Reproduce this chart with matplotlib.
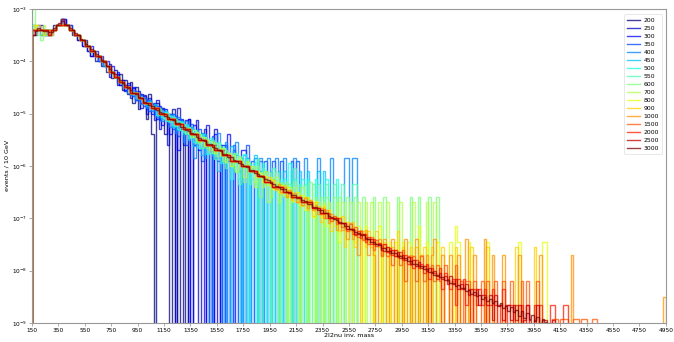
import matplotlib
matplotlib.use("Agg")
import matplotlib.pyplot as plt
import numpy as np

# bin contents as log10(events / 10 GeV), 20 GeV bins from 150
# N marks an empty bin
N = None

s200 = [-3.4, -3.5, -3.4, -3.5, -3.4, -3.5, -3.4, -3.4, -3.3, -3.3,
        -3.3, -3.2, -3.3, -3.3, -3.4, -3.5, -3.5, -3.6, -3.6, -3.7,
        -3.6, -3.8, -3.9, -3.8, -4.0, -3.9, -4.1, -4.0,
        -4.20, -4.06, -4.32, -4.17, -4.45, -4.25, -4.55, -4.36, -4.62, -4.40,
        -4.80, -4.50, -4.92, -4.62, -4.70, -5.10, -4.62, -5.40, N, -4.80,
        -5.10, -4.92, -5.40, -5.10, N, -4.92, N, -5.10, N, -5.40,
        N, -5.10, -5.40]
s250 = [-3.4, -3.4, -3.4, -3.3, -3.4, -3.4, -3.5, -3.4, -3.4, -3.3,
        -3.3, -3.2, -3.2, -3.3, -3.4, -3.4, -3.5, -3.6, -3.6, -3.6,
        -3.7, -3.7, -3.9, -3.8, -3.9, -4.0, -4.0, -4.1, -4.1, -4.3,
        -4.2, -4.3,
        -4.25, -4.45, -4.35, -4.56, -4.42, -4.70, -4.52, -4.75,
        -4.56, -4.90, -4.65, -5.00, -4.70, -4.82, -5.12, -4.75, -5.30, -4.90,
        -5.00, -5.60, -5.00, -5.12, N, -4.90, -5.30, -5.60, -5.12, N,
        -5.30, -5.60, -5.12, N, -5.60, -5.30, N, -5.60, N, -5.30,
        N, -5.60, -5.60]
s300 = [-3.5, -3.4, -3.3, -3.4, -3.5, -3.4, -3.4, -3.5, -3.4, -3.3,
        -3.3, -3.3, -3.2, -3.3, -3.3, -3.4, -3.5, -3.5, -3.6, -3.7,
        -3.7, -3.8, -3.7, -3.9, -3.8, -4.0, -3.9, -4.1, -4.0, -4.2,
        -4.1, -4.3, -4.2,
        -4.45, -4.36, -4.55, -4.45, -4.62, -4.50, -4.75,
        -4.62, -4.80, -4.66, -4.92, -4.75, -5.00, -4.80, -5.10, -4.85, -5.22,
        -4.92, -5.00, -5.40, -5.00, -5.10, -5.70, -5.10, -5.22, -5.40, -5.10,
        N, -5.22, -5.40, -5.70, -5.40, N, -5.22, -5.70, N, -5.40,
        -5.70, N, -5.70, N, -5.40, N, -5.70, N, N, -5.70,
        -5.70]
s350 = [-3.4, -3.4, -3.4, -3.4, -3.4, -3.5, -3.4, -3.4, -3.4, -3.3,
        -3.3, -3.2, -3.3, -3.3, -3.3, -3.4, -3.5, -3.5, -3.6, -3.6,
        -3.7, -3.7, -3.8, -3.8, -3.9, -3.9, -4.0, -4.0, -4.1, -4.2,
        -4.2, -4.3, -4.4, -4.4, -4.4, -4.5, -4.5, -4.6,
        -4.67, -4.56, -4.75, -4.65, -4.86, -4.72, -4.95, -4.79, -5.00, -4.86,
        -5.12, -4.90, -5.05, -5.20, -5.00, -5.30, -5.05, -5.42, -5.12, -5.20,
        -5.60, -5.30, -5.20, -5.60, -5.42, -5.30, -5.90, -5.42, -5.60, N,
        -5.42, -5.60, -5.90, -5.60, N, -5.60, -5.90, N, -5.60, -5.90,
        N, -5.90, N, -5.60, N, -5.90, N, N, -5.90, N,
        -5.90, N, N, -5.90, N, N, -5.90, N, N, N,
        -5.90, N, -5.90]
s400 = [-3.3, -3.4, -3.4, -3.4, -3.4, -3.4, -3.5, -3.4, -3.4, -3.3,
        -3.3, -3.2, -3.3, -3.3, -3.4, -3.4, -3.5, -3.5, -3.6, -3.6,
        -3.7, -3.7, -3.8, -3.8, -3.9, -4.0, -4.0, -4.0, -4.1, -4.2,
        -4.2, -4.3, -4.3, -4.4, -4.5, -4.5, -4.6,
        -4.65, -4.55, -4.74, -4.62, -4.81, -4.70, -4.90, -4.74, -4.95, -4.81,
        -5.07, -4.90, -5.15, -4.95, -5.00, -5.25, -5.00, -5.37, -5.07, -5.25,
        -5.55, -5.15, -5.37, -5.25, -5.85, -5.37, -5.55, -5.37, -5.85, -5.55,
        N, -5.55, -5.85, -5.37, -5.85, N, -5.55, -5.85, N, -5.85,
        -5.55, N, -5.85, N, -5.85, N, N, -5.85, N, -5.85,
        N, N, -5.85, N, N, -5.85, N, N, -5.85, N,
        N, N, -5.85, N, N, N, -5.85, N, N, N,
        N, -5.85, N, N, N, N, -5.85, N, N, N,
        N, -5.85, -5.85, N, -5.85, -5.85]
s450 = [-3.3, -3.4, -3.4, -3.4, -3.4, -3.4, -3.4, -3.4, -3.4, -3.3,
        -3.3, -3.3, -3.3, -3.3, -3.4, -3.4, -3.5, -3.5, -3.6, -3.6,
        -3.7, -3.7, -3.8, -3.8, -3.9, -3.9, -4.0, -4.1, -4.1, -4.2,
        -4.2, -4.3, -4.3, -4.4, -4.4, -4.5, -4.5, -4.6, -4.6, -4.7,
        -4.7, -4.7, -4.8,
        -4.85, -4.76, -4.92, -4.82, -5.02, -4.90, -5.10, -4.95, -5.15, -5.02,
        -5.25, -5.10, -5.32, -5.15, -5.40, -5.20, -5.50, -5.25, -5.62, -5.32,
        -5.40, -5.80, -5.40, -5.62, -5.50, -5.80, -5.62, -6.10, -5.62, -5.80,
        -5.80, N, -5.62, -6.10, -5.80, -6.10, N, -5.80, -6.10, N,
        -6.10, -5.80, N, -6.10, N, -6.10, N, -6.10, N, N,
        -6.10, N, -6.10, N, N, -6.10, N, N, -6.10, N,
        N, -6.10, N, N, N, -6.10, N, -6.10]
s500 = [-3.3, -3.4, -3.4, -3.4, -3.5, -3.4, -3.4, -3.4, -3.4, -3.3,
        -3.3, -3.3, -3.3, -3.3, -3.4, -3.4, -3.5, -3.5, -3.6, -3.6,
        -3.7, -3.7, -3.8, -3.8, -3.9, -3.9, -4.0, -4.0, -4.1, -4.2,
        -4.2, -4.3, -4.3, -4.4, -4.4, -4.5, -4.5, -4.6, -4.6, -4.6,
        -4.7, -4.7, -4.8, -4.8, -4.8, -4.9, -4.9,
        -5.02, -4.91, -5.07, -4.97, -5.14, -5.05, -5.21, -5.10, -5.30, -5.17,
        -5.35, -5.21, -5.47, -5.30, -5.55, -5.35, -5.65, -5.40, -5.47, -5.77,
        -5.47, -5.65, -5.77, -5.55, -5.95, -5.65, -5.95, -5.77, -6.25, -5.77,
        -5.95, -6.25, -5.95, -5.77, N, -5.95, -6.25, -5.95, N, -6.25,
        -5.95, -6.25, N, -6.25, -6.25, N, -6.25, N, -6.25, N,
        -5.95, N, -6.25, N, N, -6.25, N, -6.25, N, N,
        -6.25, N, N, N, -6.25, N, N, N, -6.25]
s550 = [-3.3, -3.4, -3.4, -3.5, -3.4, -3.5, -3.4, -3.4, -3.4, -3.3,
        -3.3, -3.3, -3.3, -3.3, -3.4, -3.4, -3.5, -3.5, -3.6, -3.6,
        -3.7, -3.7, -3.8, -3.8, -3.9, -3.9, -4.0, -4.0, -4.1, -4.2,
        -4.2, -4.3, -4.3, -4.4, -4.4, -4.5, -4.5, -4.6, -4.6, -4.6,
        -4.7, -4.7, -4.8, -4.8, -4.8, -4.9, -4.9, -4.9, -5.0, -5.0,
        -5.10, -4.99, -5.17, -5.07, -5.24, -5.15, -5.31, -5.20, -5.40, -5.27,
        -5.45, -5.31, -5.57, -5.40, -5.65, -5.45, -5.50, -5.75, -5.50, -5.87,
        -5.57, -5.75, -5.65, -6.05, -5.75, -5.87, -6.05, -5.75, -6.35, -5.87,
        -6.05, -5.87, -6.35, -6.05, -6.35, -5.87, N, -6.05, -6.35, -6.35,
        N, -6.05, -6.35, N, -6.35, -6.35, N, -6.35, N, -6.05,
        N, -6.35, N, -6.35, N, N, -6.35, N, -6.35, N,
        N, -6.35, N, N, -6.35, N, N, -6.35, N, N,
        N, -6.35, -6.35]
s600 = [-2.9, -3.4, -3.5, -3.6, -3.4, -3.5, -3.4, -3.4, -3.4, -3.3,
        -3.3, -3.3, -3.3, -3.3, -3.4, -3.4, -3.5, -3.5, -3.6, -3.6,
        -3.7, -3.7, -3.8, -3.8, -3.9, -3.9, -4.0, -4.0, -4.1, -4.2,
        -4.2, -4.3, -4.3, -4.4, -4.4, -4.5, -4.5, -4.6, -4.6, -4.6,
        -4.7, -4.7, -4.8, -4.8, -4.8, -4.9, -4.9, -4.9, -5.0, -5.0,
        -5.0, -5.1, -5.1, -5.1, -5.2, -5.2, -5.2, -5.3,
        -5.37, -5.26, -5.45, -5.32, -5.52, -5.40, -5.60, -5.45, -5.65, -5.52,
        -5.75, -5.56, -5.82, -5.65, -5.90, -5.70, -5.75, -6.00, -5.75, -6.12,
        -5.82, -5.90, -6.30, -5.90, -6.12, -6.00, -6.30, -6.00, -6.60, -6.12,
        -6.30, -6.12, -6.60, -6.30, -6.12, N, -6.30, -6.60, -6.30, N,
        -6.60, -6.30, -6.60, N, -6.60, -6.60, N, -6.30, N, -6.60,
        N, -6.60, N, -6.60, N, N, -6.60, N, -6.60, N,
        N, -6.60, N, N, -6.60, N, N, -6.60, N, N,
        N, -6.60, N, N, N, -6.60, N, N, N, N,
        -6.60, N, N, N, N, -6.60, N, N, -6.60, N,
        N, N, -6.60, N, N, -6.60]
s700 = [-3.3, -3.3, -3.4, -3.4, -3.3, -3.4, -3.5, -3.4, -3.4, -3.3,
        -3.3, -3.3, -3.3, -3.3, -3.4, -3.4, -3.5, -3.5, -3.6, -3.6,
        -3.7, -3.7, -3.8, -3.8, -3.9, -3.9, -4.0, -4.0, -4.1, -4.2,
        -4.2, -4.3, -4.3, -4.4, -4.4, -4.5, -4.5, -4.6, -4.6, -4.6,
        -4.7, -4.7, -4.8, -4.8, -4.8, -4.9, -4.9, -4.9, -5.0, -5.0,
        -5.0, -5.1, -5.1, -5.1, -5.2, -5.2, -5.2, -5.3, -5.3, -5.3,
        -5.4, -5.45, -5.36, -5.55, -5.45, -5.62, -5.50, -5.70, -5.55, -5.75,
        -5.62, -5.80, -5.66, -5.92, -5.75, -6.00, -5.80, -6.10, -5.85, -5.92,
        -6.22, -5.92, -6.10, -6.00, -6.40, -6.10, -6.22, -6.40, -6.10, -6.70,
        -6.22, -6.40, -6.22, -6.70, -6.40, -6.40, N, -6.40, -6.70, -6.40,
        -6.70, N, -6.40, -6.70, N, -6.70, -6.70, N, -6.70, N,
        -6.70, N, -6.70, N, N, -6.70, N, -6.70, N, N,
        -6.70, N, N, -6.70, N, N, -6.70, N, -6.70, N,
        N, -6.70, N, N, -6.70, N, N, N, N, -6.70,
        N, N, N, N, -6.70, N, N, N, N, -6.70,
        N, N, -6.70]
s800 = [-3.4, -3.3, -3.4, -3.4, -3.4, -3.4, -3.4, -3.5, -3.4, -3.3,
        -3.3, -3.3, -3.3, -3.3, -3.4, -3.4, -3.5, -3.5, -3.6, -3.6,
        -3.7, -3.7, -3.8, -3.8, -3.9, -3.9, -4.0, -4.0, -4.1, -4.2,
        -4.2, -4.3, -4.3, -4.4, -4.4, -4.5, -4.5, -4.6, -4.6, -4.6,
        -4.7, -4.7, -4.8, -4.8, -4.8, -4.9, -4.9, -4.9, -5.0, -5.0,
        -5.0, -5.1, -5.1, -5.1, -5.2, -5.2, -5.2, -5.3, -5.3, -5.3,
        -5.4, -5.4, -5.4, -5.5, -5.5, -5.5, -5.6, -5.6, -5.6, -5.7,
        -5.7, -5.7, -5.8, -5.8, -5.8, -5.9, -5.9, -5.9, -5.9, -6.0,
        -6.0, -6.0, -6.1, -6.1, -6.1, -6.22, -6.13, -6.30, -6.20, -6.37,
        -6.25, -6.45, -6.30, -6.50, -6.37, -6.55, -6.41, -6.60, -6.50, -6.67,
        -6.50, -6.75, -6.55, -6.85, -6.60, -6.75, -6.97, -6.67, -6.85, -6.97,
        -6.75, -7.15, -6.85, -6.97, -7.15, -6.97, -7.45, -6.97, -7.15, -7.15,
        N, -7.15, -7.45, -7.15, -7.45, N, -7.15, -7.45, -7.45, N,
        -7.45, -7.15, N, -7.45, N, -7.45, N, -7.45, N, N,
        -7.45, N, -7.45, N, N, N, -7.15, N, N, -7.45,
        N, N, N, -7.45, N, N, N, N, -7.45, N,
        -7.15, -7.45, N, N, N, -7.45, N, N, N, N,
        N, N, -7.45, N, N, N, N, N, N, N,
        N, N, N, N, -7.45, N, N, N, N, N,
        N, N, N, -7.45, -7.45]
s900 = [-3.4, -3.3, -3.3, -3.4, -3.5, -3.4, -3.4, -3.4, -3.4, -3.3,
        -3.3, -3.3, -3.3, -3.3, -3.4, -3.4, -3.5, -3.5, -3.6, -3.6,
        -3.7, -3.7, -3.8, -3.8, -3.9, -3.9, -4.0, -4.0, -4.1, -4.2,
        -4.2, -4.3, -4.3, -4.4, -4.4, -4.5, -4.5, -4.6, -4.6, -4.6,
        -4.7, -4.7, -4.8, -4.8, -4.8, -4.9, -4.9, -4.9, -5.0, -5.0,
        -5.0, -5.1, -5.1, -5.1, -5.2, -5.2, -5.2, -5.3, -5.3, -5.3,
        -5.4, -5.4, -5.4, -5.5, -5.5, -5.5, -5.6, -5.6, -5.6, -5.7,
        -5.7, -5.7, -5.8, -5.8, -5.8, -5.9, -5.9, -5.9, -5.9, -6.0,
        -6.0, -6.0, -6.1, -6.1, -6.1, -6.2, -6.2, -6.2, -6.30, -6.21,
        -6.37, -6.27, -6.47, -6.35, -6.51, -6.37, -6.60, -6.47, -6.65, -6.51,
        -6.70, -6.55, -6.77, -6.60, -6.85, -6.65, -6.95, -6.70, -6.77, -7.07,
        -6.77, -6.95, -6.85, -7.25, -6.95, -7.07, -7.25, -6.95, -7.55, -7.07,
        -7.25, -7.07, -7.55, -7.25, N, -7.25, -7.55, -7.25, -7.55, N,
        -7.25, -7.55, N, -7.55, -7.55, N, -7.55, N, -7.25, N,
        -7.55, N, N, -7.55, N, -7.55, N, N, -7.55, N,
        N, -7.55, N, N, N, -7.55, N, N, N, N,
        -7.55, N, N, N, N, N, -7.55, N, N, N,
        N, N, -7.55, N, N, N, N, N, N, N,
        N, N, N, -7.55, N, N, N, N, N, N,
        -7.55]
s1000 = [-3.4, -3.4, -3.4, -3.4, -3.4, -3.4, -3.5, -3.4, -3.4, -3.3,
         -3.3, -3.3, -3.3, -3.3, -3.4, -3.4, -3.5, -3.5, -3.6, -3.6,
         -3.7, -3.7, -3.8, -3.8, -3.9, -3.9, -4.0, -4.0, -4.1, -4.2,
         -4.2, -4.3, -4.3, -4.4, -4.4, -4.5, -4.5, -4.6, -4.6, -4.6,
         -4.7, -4.7, -4.8, -4.8, -4.8, -4.9, -4.9, -4.9, -5.0, -5.0,
         -5.0, -5.1, -5.1, -5.1, -5.2, -5.2, -5.2, -5.3, -5.3, -5.3,
         -5.4, -5.4, -5.4, -5.5, -5.5, -5.5, -5.6, -5.6, -5.6, -5.7,
         -5.7, -5.7, -5.8, -5.8, -5.8, -5.9, -5.9, -5.9, -5.9, -6.0,
         -6.0, -6.0, -6.1, -6.1, -6.1, -6.2, -6.2, -6.2, -6.3, -6.3,
         -6.3, -6.4, -6.45, -6.34, -6.50, -6.40, -6.59, -6.47, -6.62, -6.52,
         -6.70, -6.59, -6.75, -6.62, -6.80, -6.66, -6.85, -6.75, -6.92, -6.80,
         -7.00, -6.85, -7.10, -6.92, -7.00, -7.22, -7.00, -7.22, -7.10, -7.40,
         -7.10, -7.40, -7.22, -7.70, -7.22, -7.40, -7.22, -7.70, -7.40, -7.70,
         N, -7.40, -7.70, -7.40, N, -7.70, -7.40, N, -7.70, -7.70,
         N, -7.40, N, -7.70, N, -7.40, N, -7.70, N, -7.70,
         N, -7.70, -7.40, N, N, -7.70, N, N, -7.70, N,
         N, -7.70, N, N, -7.40, N, N, -7.70, N, N,
         N, -7.40, N, N, -7.70, N, N, N, -7.70, N,
         N, N, N, N, -7.70, N, N, N, N, N,
         N, N, -7.70, N, N, N, N, N, N, N,
         N, N, N, N, -7.70, N, N, N, N, N,
         N, N, N, N, N, N, N, N, N, N,
         N, N, N, N, N, N, N, N, N, N,
         N, N, N, N, N, N, N, N, N, -8.5]
s1500 = [-3.4, -3.4, -3.4, -3.4, -3.4, -3.4, -3.4, -3.4, -3.4, -3.3,
         -3.3, -3.3, -3.3, -3.3, -3.4, -3.4, -3.5, -3.5, -3.6, -3.6,
         -3.7, -3.7, -3.8, -3.8, -3.9, -3.9, -4.0, -4.0, -4.1, -4.2,
         -4.2, -4.3, -4.3, -4.4, -4.4, -4.5, -4.5, -4.6, -4.6, -4.6,
         -4.7, -4.7, -4.8, -4.8, -4.8, -4.9, -4.9, -4.9, -5.0, -5.0,
         -5.0, -5.1, -5.1, -5.1, -5.2, -5.2, -5.2, -5.3, -5.3, -5.3,
         -5.4, -5.4, -5.4, -5.5, -5.5, -5.5, -5.6, -5.6, -5.6, -5.7,
         -5.7, -5.7, -5.8, -5.8, -5.8, -5.9, -5.9, -5.9, -5.9, -6.0,
         -6.0, -6.0, -6.1, -6.1, -6.1, -6.2, -6.2, -6.2, -6.3, -6.3,
         -6.3, -6.4, -6.4, -6.4, -6.4, -6.5, -6.5, -6.5, -6.6, -6.6,
         -6.6, -6.6, -6.7, -6.7, -6.7, -6.7, -6.8, -6.8, -6.8, -6.92,
         -6.82, -7.00, -6.90, -7.05, -6.95, -7.12, -7.00, -7.16, -7.09, -7.25,
         -7.12, -7.30, -7.16, -7.35, -7.25, -7.42, -7.30, -7.50, -7.35, -7.60,
         -7.42, -7.50, -7.72, -7.50, -7.72, -7.60, -7.90, -7.60, -7.72, -7.90,
         -7.60, -8.20, -7.72, -7.90, -7.72, -8.20, -7.90, -7.72, -8.20, -7.90,
         N, -7.90, -8.20, -7.90, -8.20, N, -7.90, -8.20, N, -8.20,
         -7.90, N, -8.20, N, -8.20, -8.20, N, -8.20, N, N,
         -8.20, N, -8.20, N, N, -8.20, N, N, -8.20, N,
         N, -8.20, N, N, N, -8.20, N, -8.20, N, N,
         N, -8.20, N, N, N, N, N, -8.92, -8.92, N,
         -8.92, -8.92, -8.92, N, N, -8.92, -8.92, N, -8.92, -8.92,
         N, N, -8.92, -8.92]
s2000 = [-3.5, -3.4, -3.4, -3.4, -3.4, -3.4, -3.5, -3.4, -3.4, -3.3,
         -3.3, -3.3, -3.3, -3.3, -3.4, -3.4, -3.5, -3.5, -3.6, -3.6,
         -3.7, -3.7, -3.8, -3.8, -3.9, -3.9, -4.0, -4.0, -4.1, -4.2,
         -4.2, -4.3, -4.3, -4.4, -4.4, -4.5, -4.5, -4.6, -4.6, -4.6,
         -4.7, -4.7, -4.8, -4.8, -4.8, -4.9, -4.9, -4.9, -5.0, -5.0,
         -5.0, -5.1, -5.1, -5.1, -5.2, -5.2, -5.2, -5.3, -5.3, -5.3,
         -5.4, -5.4, -5.4, -5.5, -5.5, -5.5, -5.6, -5.6, -5.6, -5.7,
         -5.7, -5.7, -5.8, -5.8, -5.8, -5.9, -5.9, -5.9, -5.9, -6.0,
         -6.0, -6.0, -6.1, -6.1, -6.1, -6.2, -6.2, -6.2, -6.3, -6.3,
         -6.3, -6.4, -6.4, -6.4, -6.4, -6.5, -6.5, -6.5, -6.6, -6.6,
         -6.6, -6.6, -6.7, -6.7, -6.7, -6.7, -6.8, -6.8, -6.8, -6.9,
         -6.9, -6.9, -7.0, -7.0, -7.0, -7.0, -7.1, -7.1, -7.1, -7.2,
         -7.2, -7.2, -7.33, -7.24, -7.37, -7.31, -7.45, -7.35, -7.50, -7.40,
         -7.54, -7.47, -7.61, -7.50, -7.65, -7.57, -7.70, -7.61, -7.75, -7.65,
         -7.80, -7.70, -7.87, -7.75, -7.95, -7.80, -7.95, -7.87, -8.05, -7.87,
         -8.17, -7.95, -8.05, -8.17, -7.95, -8.35, -8.05, -8.17, -8.35, -8.17,
         -8.65, -8.17, -8.35, -8.17, -8.65, -8.35, N, -8.35, -8.65, -8.35,
         -8.65, -8.35, N, -8.65, -8.35, -8.65, N, -8.65, -8.35, N,
         -8.65, -8.65, N, -8.65, N, -8.65, N, -8.65, N, N,
         -8.65, N, -8.65, N, N, N, -8.65, -8.65, N, N,
         N, -8.65, -8.65]
s2500 = [-3.4, -3.4, -3.4, -3.4, -3.4, -3.4, -3.5, -3.4, -3.4, -3.3,
         -3.3, -3.2, -3.3, -3.3, -3.4, -3.4, -3.5, -3.5, -3.6, -3.6,
         -3.7, -3.7, -3.8, -3.8, -3.9, -3.9, -4.0, -4.0, -4.1, -4.1,
         -4.2, -4.3, -4.3, -4.4, -4.4, -4.5, -4.5, -4.6, -4.6, -4.6,
         -4.7, -4.7, -4.8, -4.8, -4.8, -4.9, -4.9, -4.9, -5.0, -5.0,
         -5.0, -5.1, -5.1, -5.1, -5.2, -5.2, -5.2, -5.3, -5.3, -5.3,
         -5.4, -5.4, -5.4, -5.5, -5.5, -5.5, -5.6, -5.6, -5.6, -5.7,
         -5.7, -5.7, -5.8, -5.8, -5.8, -5.9, -5.9, -5.9, -5.9, -6.0,
         -6.0, -6.0, -6.1, -6.1, -6.1, -6.2, -6.2, -6.2, -6.3, -6.3,
         -6.3, -6.4, -6.4, -6.4, -6.4, -6.5, -6.5, -6.5, -6.6, -6.6,
         -6.6, -6.6, -6.7, -6.7, -6.7, -6.7, -6.8, -6.8, -6.8, -6.9,
         -6.9, -6.9, -7.0, -7.0, -7.0, -7.0, -7.1, -7.1, -7.1, -7.2,
         -7.2, -7.2, -7.3, -7.3, -7.3, -7.3, -7.4, -7.4, -7.4, -7.5,
         -7.5, -7.5, -7.6, -7.63, -7.55, -7.67, -7.61, -7.72, -7.65, -7.77,
         -7.70, -7.80, -7.75, -7.87, -7.80, -7.91, -7.84, -7.95, -7.91, -8.00,
         -7.95, -8.05, -8.00, -8.10, -8.05, -8.17, -8.10, -8.25, -8.10, -8.25,
         -8.17, -8.35, -8.25, -8.35, -8.25, -8.47, -8.35, -8.47, -8.35, -8.65,
         -8.47, -8.47, -8.65, -8.47, -8.95, -8.47, -8.65, -8.65, -8.95, -8.65,
         -8.65, -8.95, -8.65, -8.95, -8.65, N, -8.95, -8.65, -8.95, N,
         -8.95, -8.65, N, -8.95, -8.95, N, N, -8.95]
s3000 = [-3.49, -3.43, -3.37, -3.41, -3.42, -3.43, -3.44, -3.45, -3.37, -3.31,
         -3.27, -3.24, -3.28, -3.30, -3.37, -3.40, -3.47, -3.50, -3.57, -3.60,
         -3.67, -3.70, -3.77, -3.80, -3.87, -3.91, -3.98, -4.02, -4.10, -4.14,
         -4.22, -4.25, -4.32, -4.35, -4.42, -4.45, -4.52, -4.55, -4.61, -4.63,
         -4.69, -4.71, -4.77, -4.79, -4.84, -4.86, -4.91, -4.93, -4.98, -4.99,
         -5.04, -5.06, -5.11, -5.12, -5.18, -5.19, -5.25, -5.26, -5.31, -5.33,
         -5.38, -5.39, -5.45, -5.46, -5.51, -5.52, -5.58, -5.59, -5.64, -5.65,
         -5.70, -5.72, -5.77, -5.78, -5.83, -5.84, -5.89, -5.90, -5.95, -5.96,
         -6.01, -6.02, -6.07, -6.08, -6.14, -6.15, -6.20, -6.21, -6.26, -6.27,
         -6.32, -6.34, -6.39, -6.40, -6.45, -6.45, -6.50, -6.51, -6.56, -6.56,
         -6.61, -6.62, -6.66, -6.67, -6.72, -6.73, -6.78, -6.79, -6.84, -6.85,
         -6.90, -6.91, -6.96, -6.97, -7.02, -7.03, -7.08, -7.09, -7.14, -7.15,
         -7.20, -7.22, -7.27, -7.28, -7.33, -7.33, -7.38, -7.39, -7.45, -7.45,
         -7.50, -7.51, -7.57, -7.57, -7.62, -7.62, -7.67, -7.67, -7.72, -7.72,
         -7.77, -7.77, -7.82, -7.82, -7.87, -7.87, -7.92, -7.91, -7.97, -7.97,
         -8.03, -8.02, -8.08, -8.08, -8.13, -8.13, -8.18, -8.18, -8.24, -8.23,
         -8.29, -8.28, -8.34, -8.33, -8.40, -8.37, -8.45, -8.42, -8.49, -8.46,
         -8.54, -8.50, -8.58, -8.55, -8.63, -8.59, -8.68, -8.62, -8.72, -8.67,
         -8.77, -8.70, -8.80, -8.75, -8.86, -8.78, -8.90, -8.81, -8.93, -8.85,
         -8.97, -8.88, -9.02, -8.92, -8.99]

labels = ["200", "250", "300", "350", "400", "450", "500", "550", "600",
          "700", "800", "900", "1000", "1500", "2000", "2500", "3000"]
series = [s200, s250, s300, s350, s400, s450, s500, s550, s600,
          s700, s800, s900, s1000, s1500, s2000, s2500, s3000]

bin_edges = np.arange(150, 4951, 20)
floor = 1e-12
colors = plt.cm.jet(np.linspace(0, 1, len(labels)))

fig = plt.figure(figsize=(6.74, 3.42), dpi=100)
ax = fig.add_axes([0.0475, 0.056, 0.9405, 0.918])

for lab, vals, col in zip(labels, series, colors):
    v = np.array(vals, dtype=float)
    y = np.where(np.isnan(v), floor, 10.0 ** v)
    ax.stairs(y, bin_edges[:len(y) + 1], baseline=floor, color=col,
              alpha=0.75, lw=1.0, label=lab)

ax.set_yscale("log")
ax.set_xlim(150, 4950)
ax.set_ylim(1e-9, 1e-3)
ax.set_xticks(np.arange(150, 4951, 200))
ax.minorticks_off()
ax.tick_params(labelsize=4.2, length=2, width=0.5, color="#888888", pad=1.5)
for sp in ax.spines.values():
    sp.set_color("#999999")
    sp.set_linewidth(0.8)

ax.set_xlabel("2l2nu inv. mass", fontsize=4.6, labelpad=0.5)
ax.set_ylabel("events / 10 GeV", fontsize=4.6, labelpad=2)

leg = ax.legend(loc="upper right", fontsize=4.4, labelspacing=0.45,
                handlelength=2.0, handletextpad=0.6, borderpad=0.5,
                frameon=True, fancybox=True, bbox_to_anchor=(0.9985, 0.992))
leg.get_frame().set_edgecolor("#dddddd")
leg.get_frame().set_linewidth(0.6)

fig.savefig("out.png", dpi=100)
